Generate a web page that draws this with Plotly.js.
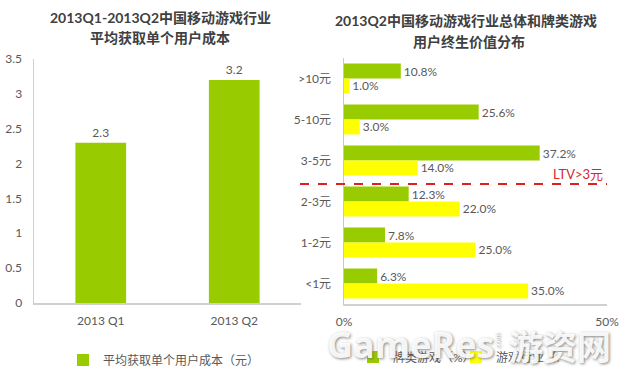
<!DOCTYPE html>
<html><head><meta charset="utf-8">
<script src="https://cdn.plot.ly/plotly-3.0.1.min.js"></script>
<style>body{margin:0;background:#fff}#c{width:640px;height:385px}</style>
</head><body><div id="c"></div>
<script>
// Left chart data
const quarters = ['2013 Q1', '2013 Q2'];
const acqCost = [2.3, 3.2];
const acqName = '平均获取单个用户成本（元）';

// Right chart data
const ltvBins = ['>10元', '5-10元', '3-5元', '2-3元', '1-2元', '<1元'];
const cardGames = [10.8, 25.6, 37.2, 12.3, 7.8, 6.3];
const allGames = [1.0, 3.0, 14.0, 22.0, 25.0, 35.0];
const cardName = '牌类游戏（%）';
const allName = '游戏行业（%）';

const FONT = 'Lato, "Noto Sans CJK SC", sans-serif';
const GRAY = '#595959';
const GREEN = '#99CC00';
const YELLOW = '#FFFF00';

const traces = [
  {type:'bar', x: quarters, y: acqCost, xaxis:'x', yaxis:'y', name: acqName,
   marker:{color:GREEN}, width:0.38, text: acqCost.map(v=>v.toFixed(1)),
   textposition:'outside', textfont:{size:12,color:GRAY}, cliponaxis:false,
   legend:'legend', hoverinfo:'skip'},
  {type:'bar', orientation:'h', y: ltvBins, x: cardGames, xaxis:'x2', yaxis:'y2', name: cardName,
   marker:{color:GREEN}, text: cardGames.map(v=>v.toFixed(1)+'%'),
   textposition:'outside', textfont:{size:12,color:GRAY}, cliponaxis:false,
   legend:'legend2', hoverinfo:'skip'},
  {type:'bar', orientation:'h', y: ltvBins, x: allGames, xaxis:'x2', yaxis:'y2', name: allName,
   marker:{color:YELLOW}, text: allGames.map(v=>v.toFixed(1)+'%'),
   textposition:'outside', textfont:{size:12,color:GRAY}, cliponaxis:false,
   legend:'legend2', hoverinfo:'skip'}
];

const layout = {
  width:640, height:385,
  margin:{l:0,r:0,t:0,b:0},
  paper_bgcolor:'#fff', plot_bgcolor:'#fff',
  font:{family:FONT, color:GRAY, size:12},
  barmode:'group', bargap:0.27, bargroupgap:0,
  showlegend:true,
  xaxis:{domain:[34/640, 301/640], anchor:'y', showgrid:false, zeroline:false,
         showline:true, linecolor:'#d0d0d0', linewidth:1.5, ticks:'', ticklabelstandoff:6,
         tickfont:{size:12,color:GRAY}, automargin:false, fixedrange:true},
  yaxis:{domain:[(385-303)/385, (385-59)/385], anchor:'x', range:[0,3.5], dtick:0.5,
         showgrid:false, zeroline:false, showline:true, linecolor:'#d0d0d0', linewidth:1.5,
         ticks:'', ticklabelstandoff:8, tickfont:{size:12,color:GRAY}, automargin:false},
  xaxis2:{domain:[344/640, 607/640], anchor:'y2', range:[0,50], tickvals:[0,50],
          ticktext:['0%','50%'], showgrid:false, zeroline:false, showline:true,
          linecolor:'#d0d0d0', linewidth:1.5, ticks:'', ticklabelstandoff:6,
          tickfont:{size:12,color:GRAY}, automargin:false},
  yaxis2:{domain:[(385-304)/385, (385-58)/385], anchor:'x2', type:'category',
          autorange:'reversed', showgrid:false, zeroline:false, showline:true,
          linecolor:'#c8c8c8', linewidth:1.5, ticks:'', ticklabelstandoff:9,
          tickfont:{size:12,color:GRAY}, automargin:false},
  legend:{orientation:'h', x:63/640, y:(385-360)/385, xanchor:'left', yanchor:'middle',
          font:{size:12,color:GRAY}, bgcolor:'rgba(0,0,0,0)'},
  legend2:{orientation:'h', x:353/640, y:(385-357)/385, xanchor:'left', yanchor:'middle',
          font:{size:12,color:GRAY}, bgcolor:'rgba(0,0,0,0)', entrywidth:58, entrywidthmode:'pixels'},
  shapes:[
    {type:'line', xref:'paper', yref:'paper', x0:300/640, x1:607/640,
     y0:(385-184)/385, y1:(385-184)/385, line:{color:'#E02020', width:2, dash:'dash'}}
  ],
  annotations:[
    {xref:'paper', yref:'paper', x:160/640, y:(385-17)/385, text:'2013Q1-2013Q2中国移动游戏行业',
     showarrow:false, font:{size:14, color:'#404040', weight:'bold'}, xanchor:'center', yanchor:'middle'},
    {xref:'paper', yref:'paper', x:160/640, y:(385-37)/385, text:'平均获取单个用户成本',
     showarrow:false, font:{size:14, color:'#404040', weight:'bold'}, xanchor:'center', yanchor:'middle'},
    {xref:'paper', yref:'paper', x:466/640, y:(385-20)/385, text:'2013Q2中国移动游戏行业总体和牌类游戏',
     showarrow:false, font:{size:14, color:'#404040', weight:'bold'}, xanchor:'center', yanchor:'middle'},
    {xref:'paper', yref:'paper', x:469/640, y:(385-41)/385, text:'用户终生价值分布',
     showarrow:false, font:{size:14, color:'#404040', weight:'bold'}, xanchor:'center', yanchor:'middle'},
    {xref:'paper', yref:'paper', x:578/640, y:(385-174)/385, text:'LTV>3元',
     showarrow:false, font:{size:13, color:'#D9262B'}, xanchor:'center', yanchor:'middle'},
    {xref:'paper', yref:'paper', x:410/640, y:(385-344)/385, text:'GameRes',
     showarrow:false, font:{size:36, color:'rgba(255,255,255,0.92)', weight:'bold', family:'"Open Sans", sans-serif', shadow:'1px 1px 3px rgba(90,90,90,0.8)'},
     xanchor:'center', yanchor:'middle'},
    {xref:'paper', yref:'paper', x:497/640, y:(385-343)/385, text:'.com', textangle:-90,
     showarrow:false, font:{size:8, color:'rgba(255,255,255,0.95)', shadow:'1px 1px 2px rgba(90,90,90,0.8)'},
     xanchor:'center', yanchor:'middle'},
    {xref:'paper', yref:'paper', x:560/640, y:(385-345)/385, text:'游资网',
     showarrow:false, font:{size:34, color:'rgba(255,255,255,0.92)', weight:'bold', family:'"Noto Sans CJK SC", sans-serif', shadow:'1px 1px 3px rgba(90,90,90,0.8)'},
     xanchor:'center', yanchor:'middle'}
  ]
};

Plotly.newPlot('c', traces, layout, {staticPlot:true, displayModeBar:false});
</script></body></html>
